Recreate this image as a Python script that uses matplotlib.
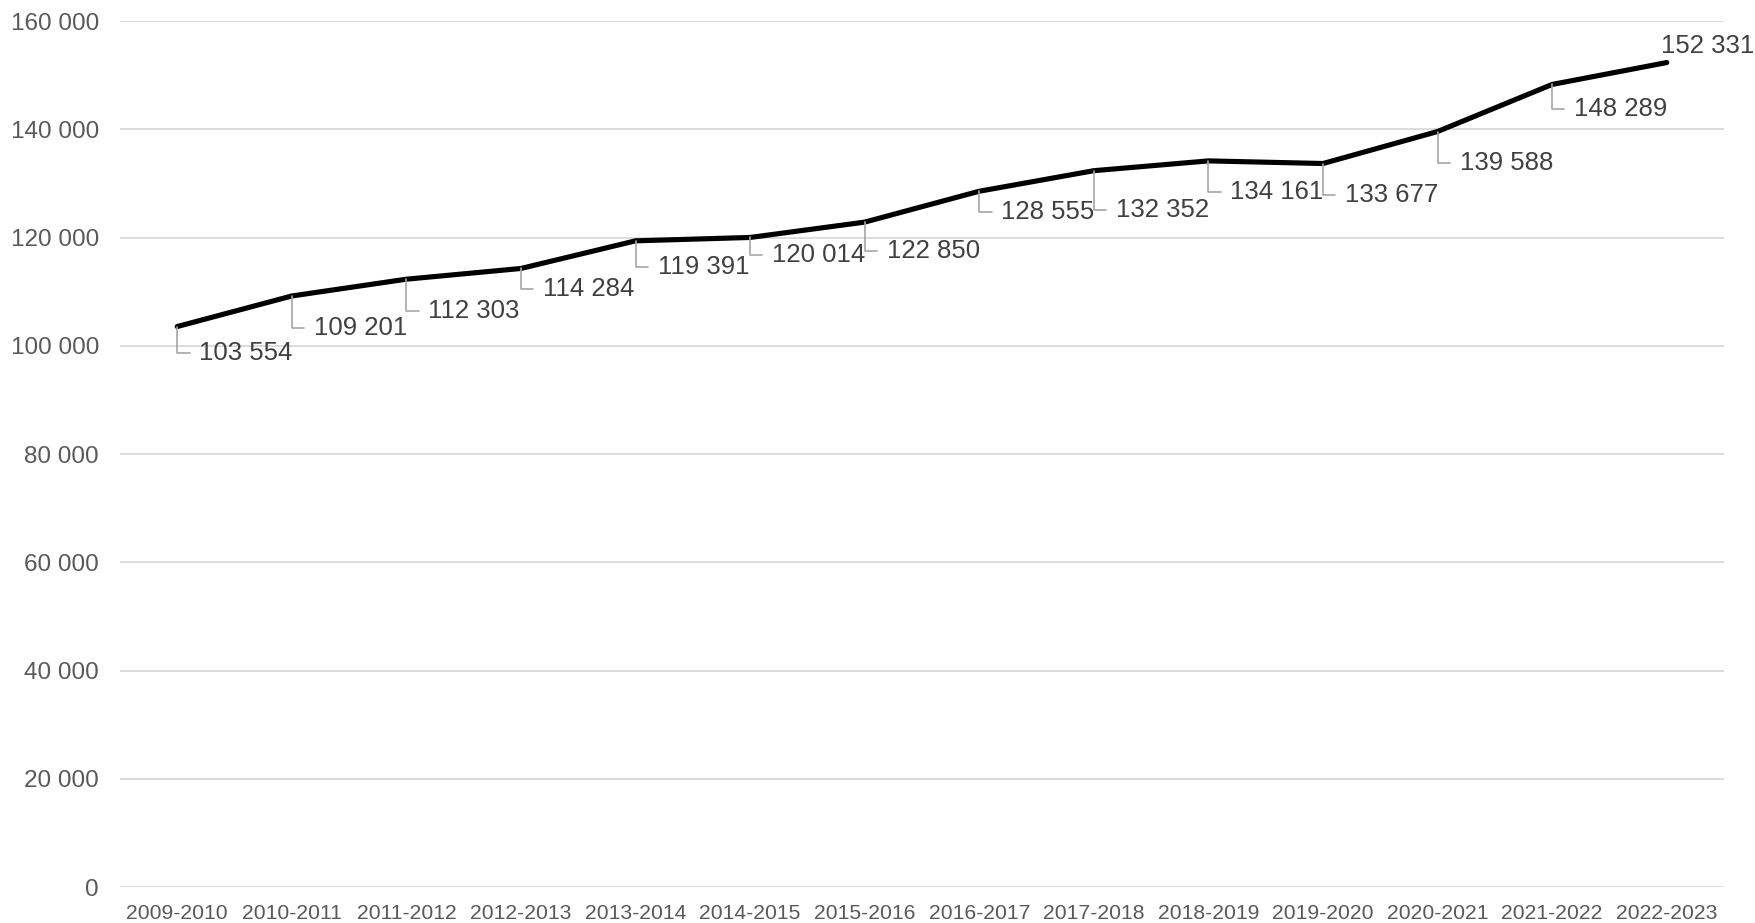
import matplotlib.pyplot as plt
from matplotlib.ticker import FuncFormatter, MultipleLocator

plt.rcParams["font.family"] = ["Liberation Sans", "DejaVu Sans"]

years = [
    "2009-2010", "2010-2011", "2011-2012", "2012-2013", "2013-2014",
    "2014-2015", "2015-2016", "2016-2017", "2017-2018", "2018-2019",
    "2019-2020", "2020-2021", "2021-2022", "2022-2023",
]
values = [
    103554, 109201, 112303, 114284, 119391, 120014, 122850,
    128555, 132352, 134161, 133677, 139588, 148289, 152331,
]
# label offsets in pixels (below-right with leader, last one above)
label_dx = [22] * 13 + [-6]
label_dy = [-26, -32, -32, -21, -26, -18, -29, -21, -39, -31, -31, -31, -25, 17]


def space_thousands(v, pos):
    return f"{int(v):,}".replace(",", " ")


fig = plt.figure(figsize=(17.56, 9.23), dpi=100)
ax = fig.add_axes([0.0683, 0.039, 0.9135, 0.9382])

x = range(len(years))
ax.plot(x, values, color="black", linewidth=3.7, solid_capstyle="round", zorder=3)

ax.set_xlim(-0.5, len(years) - 0.5)
ax.set_ylim(0, 160000)
ax.yaxis.set_major_locator(MultipleLocator(20000))
ax.yaxis.set_major_formatter(FuncFormatter(space_thousands))
ax.set_xticks(list(x))
ax.set_xticklabels(years)

ax.grid(axis="y", color="#d9d9d9", linewidth=1.3)
ax.set_axisbelow(True)
for side in ["top", "right", "left", "bottom"]:
    ax.spines[side].set_visible(False)
ax.tick_params(axis="y", length=0, pad=15, labelsize=17.5, labelcolor="#595959")
ax.tick_params(axis="x", length=0, pad=12, labelsize=15.2, labelcolor="#595959")

for i, (v, dx, dy) in enumerate(zip(values, label_dx, label_dy)):
    label = space_thousands(v, None)
    if dy > 0:
        ax.annotate(label, (i, v), xytext=(dx, dy), textcoords="offset pixels",
                    ha="left", va="center", fontsize=18.5, color="#404040")
    else:
        ax.annotate(label, (i, v), xytext=(dx, dy), textcoords="offset pixels",
                    ha="left", va="center", fontsize=18.5, color="#404040",
                    arrowprops=dict(arrowstyle="-", color="#a6a6a6", linewidth=1.2,
                                    connectionstyle="angle,angleA=0,angleB=90,rad=0",
                                    relpos=(0, 0.5), shrinkA=5, shrinkB=0))

fig.savefig("out.png", dpi=100)
